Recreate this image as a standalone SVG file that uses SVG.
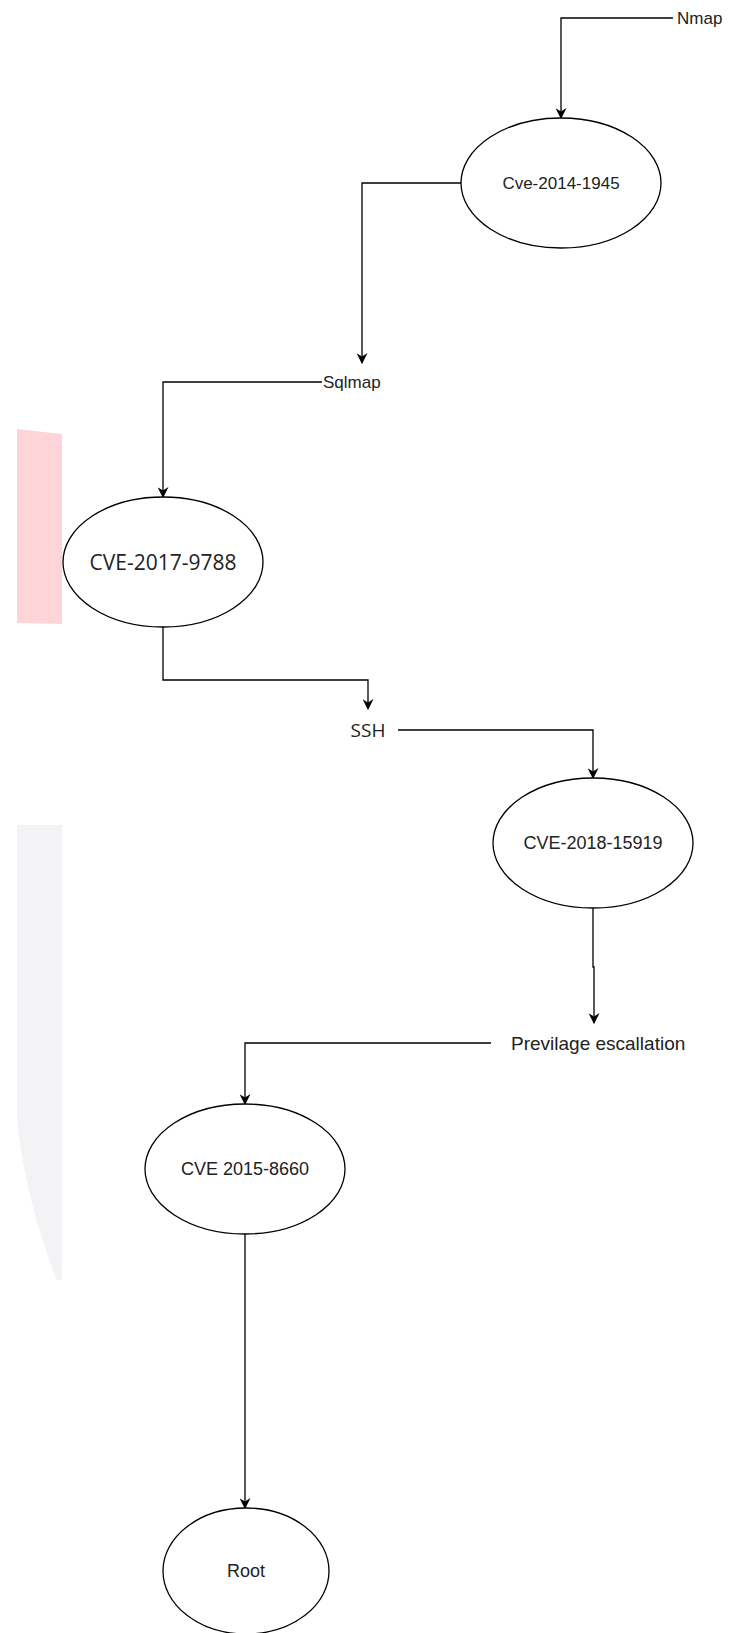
<svg xmlns="http://www.w3.org/2000/svg" width="737" height="1633" viewBox="0 0 737 1633">
<style>
.n ellipse{fill:#fff;stroke:#000;stroke-width:1.3}
.t{font-family:"Liberation Sans",Arial,sans-serif;font-size:17px;fill:#222;dominant-baseline:central}
.b{font-size:18px}
.m{text-anchor:middle}
.o{font-family:"Open Sans","DejaVu Sans",sans-serif;font-size:21px;fill:#222;dominant-baseline:central;text-anchor:middle}
.c path{fill:none;stroke:#000;stroke-width:1.3;marker-end:url(#a)}
</style>
<defs>
<marker id="a" viewBox="0 0 10 10" refX="9" refY="5" markerWidth="11" markerHeight="11" markerUnits="userSpaceOnUse" orient="auto">
<path d="M0,0 L10,5 L0,10 L3,5 Z" fill="#000"/>
</marker>
</defs>
<rect width="737" height="1633" fill="#fff"/>
<g id="bg">
<path d="M17,429 L62,434 L62,624 L17,623 Z" fill="#fdd5d8"/>
<path d="M17,825 L62,825 L62,1280 L57,1280 Q27,1205 17,1122 Z" fill="#f3f3f5"/>
</g>
<g class="c" id="connectors">
<path d="M673,18 L561,18 L561,118"/>
<path d="M461,183 L362,183 L362,363"/>
<path d="M322,382 L163,382 L163,497"/>
<path d="M163,627 L163,680 L368,680 L368,709"/>
<path d="M398,730 L593,730 L593,778"/>
<path d="M593,908 L593,967 L594,967 L594,1023"/>
<path d="M491,1043 L245,1043 L245,1104"/>
<path d="M245,1234 L245,1508"/>
</g>
<g id="nmap"><text class="t" x="677" y="18">Nmap</text></g>
<g id="sqlmap"><text class="t" x="323" y="382">Sqlmap</text></g>
<g id="ssh"><text class="o" style="font-size:19px" x="368" y="730">SSH</text></g>
<g id="prev"><text class="t" style="font-size:19px" x="511" y="1043">Previlage escallation</text></g>
<g id="cve2014" class="n"><ellipse cx="561" cy="183" rx="100" ry="65"/><text class="t m" x="561" y="183">Cve-2014-1945</text></g>
<g id="cve2017" class="n"><ellipse cx="163" cy="562" rx="100" ry="65"/><text class="o" x="163" y="562">CVE-2017-9788</text></g>
<g id="cve2018" class="n"><ellipse cx="593" cy="843" rx="100" ry="65"/><text class="t m b" x="593" y="843">CVE-2018-15919</text></g>
<g id="cve2015" class="n"><ellipse cx="245" cy="1169" rx="100" ry="65"/><text class="t m b" x="245" y="1169">CVE 2015-8660</text></g>
<g id="root" class="n"><ellipse cx="246" cy="1571" rx="83" ry="63"/><text class="t m b" x="246" y="1571">Root</text></g>
</svg>
